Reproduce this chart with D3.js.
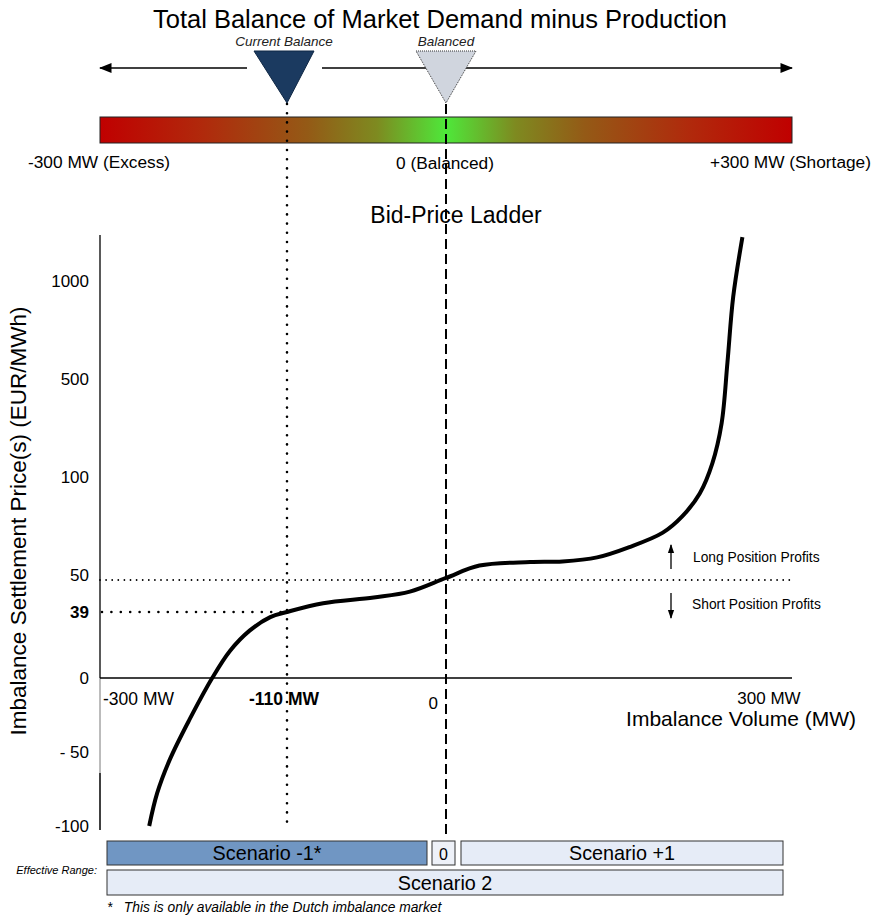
<!DOCTYPE html>
<html><head><meta charset="utf-8">
<script src="https://cdn.jsdelivr.net/npm/d3@7"></script>
<style>
body{margin:0;background:#fff;}
text{font-family:"Liberation Sans",Arial,sans-serif;}
.narrow{font-family:"Liberation Sans Narrow","Arial Narrow","Liberation Sans",sans-serif;}
</style></head>
<body>
<svg id="c" width="873" height="919"></svg>
<script>
// ---- data ----
const curveMW    = [-250,-242,-229,-209,-186,-168,-148,-127,-110,-85,-50,-25,0,29,73,101,131,159,188,205,220,231,239,244,249,257];
const curvePrice = [-100,-78,-55,-28,0,16,28,36,39,42,44,46,51,57,58.7,59,61,66,73,81,92,157,320,582,918,1224];
const yTickValues = [1000,500,100,50,39,0,-50,-100];
const yTickLabels = ["1000","500","100","50","39","0","- 50","-100"];
const xTickValues = [-300,-110,0,300];
const xTickLabels = ["-300 MW","-110 MW","0","300 MW"];
const currentBalanceMW = -110;
const balancedMW = 0;
const balancedPrice = 50;
const currentPrice = 39;
const scenarioRow1 = ["Scenario -1*","0","Scenario +1"];
const scenarioRow2 = ["Scenario 2"];

// ---- scales ----
const svg = d3.select("#c");
const x = d3.scaleLinear().domain([-300,-110,0,300]).range([100,287,446,792]);
const y = d3.scaleLinear().domain([-100,-50,0,39,50,100,500,1000]).range([826,752,678,612,580,477,379,281]);

// ---- top title ----
svg.append("text").attr("x",440).attr("y",28).attr("text-anchor","middle")
  .style("font-size","25.5px").text("Total Balance of Market Demand minus Production");

// arrows
const defs = svg.append("defs");
defs.append("marker").attr("id","ah").attr("viewBox","0 0 10 10").attr("refX",9).attr("refY",5)
  .attr("markerWidth",8).attr("markerHeight",8).attr("orient","auto-start-reverse")
  .append("path").attr("d","M0,1 L10,5 L0,9 Z").attr("fill","#000");
defs.append("marker").attr("id","ahs").attr("viewBox","0 0 10 10").attr("refX",9).attr("refY",5)
  .attr("markerWidth",7).attr("markerHeight",7).attr("orient","auto-start-reverse")
  .append("path").attr("d","M0,1.5 L10,5 L0,8.5 Z").attr("fill","#000");

svg.append("line").attr("x1",247).attr("x2",x(-300)).attr("y1",68).attr("y2",68)
  .attr("stroke","#000").attr("stroke-width",1.6).attr("marker-end","url(#ah)");
svg.append("line").attr("x1",322).attr("x2",x(300)).attr("y1",68).attr("y2",68)
  .attr("stroke","#000").attr("stroke-width",1.6).attr("marker-end","url(#ah)");

// gradient bar
const grad = defs.append("linearGradient").attr("id","g").attr("x1","0%").attr("x2","100%");
[[0,"#c00000"],[0.15,"#b02a0c"],[0.3,"#945a16"],[0.4,"#7e8a20"],[0.5,"#4ee83a"],[0.6,"#7e8a20"],[0.7,"#945a16"],[0.85,"#b02a0c"],[1,"#c00000"]]
 .forEach(s=>grad.append("stop").attr("offset",s[0]).attr("stop-color",s[1]));
svg.append("rect").attr("x",x(-300)).attr("y",117).attr("width",x(300)-x(-300)).attr("height",26)
  .attr("fill","url(#g)").attr("stroke","#222").attr("stroke-width",1);

svg.append("text").attr("x",28).attr("y",168).style("font-size","17.3px").text("-300 MW (Excess)");
svg.append("text").attr("x",x(0)-1).attr("y",169).attr("text-anchor","middle").style("font-size","17.3px").text("0 (Balanced)");
svg.append("text").attr("x",871).attr("y",168).attr("text-anchor","end").style("font-size","17.3px").text("+300 MW (Shortage)");

// vertical guide lines
const xc = x(currentBalanceMW), xb = x(balancedMW);
svg.append("line").attr("x1",xc).attr("x2",xc).attr("y1",104).attr("y2",y(-100)+2)
  .attr("stroke","#000").attr("stroke-width",2.6).attr("stroke-linecap","round").attr("stroke-dasharray","0 9.2");
svg.append("line").attr("x1",xb).attr("x2",xb).attr("y1",104).attr("y2",836)
  .attr("stroke","#000").attr("stroke-width",2).attr("stroke-dasharray","10 5");

// triangles
svg.append("path").attr("d",`M${xc-33},51 L${xc+27},51 L${xc},103 Z`)
  .attr("fill","#1b3a60").attr("stroke","#0f2744").attr("stroke-width",1);
svg.append("path").attr("d",`M${xb-30},51 L${xb+30},51 L${xb},103 Z`)
  .attr("fill","#d0d5de").attr("stroke","#333").attr("stroke-width",1).attr("stroke-dasharray","1 1");
svg.append("text").attr("x",xc-3).attr("y",46).attr("text-anchor","middle")
  .style("font-size","13.5px").style("font-style","italic").attr("fill","#222").text("Current Balance");
svg.append("text").attr("x",xb).attr("y",46).attr("text-anchor","middle")
  .style("font-size","13.5px").style("font-style","italic").attr("fill","#222").text("Balanced");

// ---- lower chart ----
svg.append("text").attr("x",456).attr("y",223).attr("text-anchor","middle").style("font-size","23px").text("Bid-Price Ladder");

// y axis line
svg.append("line").attr("x1",100).attr("x2",100).attr("y1",235).attr("y2",y(0)).attr("stroke","#000").attr("stroke-width",1.3);
svg.append("line").attr("x1",100).attr("x2",100).attr("y1",y(0)).attr("y2",773).attr("stroke","#555").attr("stroke-width",0.8);
svg.append("line").attr("x1",100).attr("x2",100).attr("y1",773).attr("y2",830).attr("stroke","#000").attr("stroke-width",1.5);

// y tick labels
svg.append("g").selectAll("text").data(yTickValues).join("text")
  .attr("x",89).attr("y",d=>y(d)+ (d===50?1:6)).attr("text-anchor","end")
  .style("font-size","17px").style("font-weight",d=>d===currentPrice?"bold":"normal")
  .text((d,i)=>yTickLabels[i]);

// x axis
svg.append("line").attr("x1",x(-300)).attr("x2",x(300)).attr("y1",y(0)).attr("y2",y(0)).attr("stroke","#000").attr("stroke-width",1.3);
svg.append("text").attr("x",x(-300)+3).attr("y",705).style("font-size","17.5px").text(xTickLabels[0]);
svg.append("text").attr("x",x(-110)-3).attr("y",705).attr("text-anchor","middle").style("font-size","17.5px").style("font-weight","bold").text(xTickLabels[1]);
svg.append("text").attr("x",x(0)-8).attr("y",709).attr("text-anchor","end").style("font-size","17px").text(xTickLabels[2]);
svg.append("text").attr("x",x(300)-23).attr("y",704).attr("text-anchor","middle").style("font-size","17px").text(xTickLabels[3]);
svg.append("text").attr("x",856).attr("y",726).attr("text-anchor","end").style("font-size","21px").text("Imbalance Volume (MW)");

// y title
svg.append("text").attr("transform","translate(26,521) rotate(-90)").attr("text-anchor","middle")
  .style("font-size","22.5px").text("Imbalance Settlement Price(s) (EUR/MWh)");

// horizontal dotted lines
svg.append("line").attr("x1",x(-300)).attr("x2",x(300)).attr("y1",y(balancedPrice)).attr("y2",y(balancedPrice))
  .attr("stroke","#000").attr("stroke-width",1.8).attr("stroke-linecap","round").attr("stroke-dasharray","0 6.1");
svg.append("line").attr("x1",x(-300)+2).attr("x2",xc).attr("y1",y(currentPrice)).attr("y2",y(currentPrice))
  .attr("stroke","#000").attr("stroke-width",2.6).attr("stroke-linecap","round").attr("stroke-dasharray","0 9.4");

// curve
const pts = curveMW.map((m,i)=>[m,curvePrice[i]]);
svg.append("path").datum(pts)
  .attr("d",d3.line().x(d=>x(d[0])).y(d=>y(d[1])).curve(d3.curveCatmullRom.alpha(0.5)))
  .attr("fill","none").attr("stroke","#000").attr("stroke-width",4).attr("stroke-linecap","butt");

// profits annotations
svg.append("line").attr("x1",671).attr("x2",671).attr("y1",569).attr("y2",545)
  .attr("stroke","#000").attr("stroke-width",1.3).attr("marker-end","url(#ahs)");
svg.append("line").attr("x1",671).attr("x2",671).attr("y1",593).attr("y2",618)
  .attr("stroke","#000").attr("stroke-width",1.3).attr("marker-end","url(#ahs)");
svg.append("text").attr("x",693).attr("y",562).style("font-size","13.8px").text("Long Position Profits");
svg.append("text").attr("x",692).attr("y",609).style("font-size","13.8px").text("Short Position Profits");

// scenario boxes
const row1 = [
  {x0:107,x1:427,fill:"#7096c3"},
  {x0:432,x1:455,fill:"#eef1f8"},
  {x0:461,x1:783,fill:"#e6ecf7"}
];
const g1 = svg.append("g");
row1.forEach((b,i)=>{
  g1.append("rect").attr("x",b.x0).attr("y",841).attr("width",b.x1-b.x0).attr("height",24)
    .attr("fill",b.fill).attr("stroke","#333").attr("stroke-width",1);
  g1.append("text").attr("class","narrow").attr("x",(b.x0+b.x1)/2).attr("y",860).attr("text-anchor","middle")
    .style("font-size",i===1?"16px":"19.8px").text(scenarioRow1[i]);
});
svg.append("rect").attr("x",107).attr("y",870).attr("width",676).attr("height",25)
  .attr("fill","#e6ecf7").attr("stroke","#333").attr("stroke-width",1);
svg.append("text").attr("class","narrow").attr("x",445).attr("y",890).attr("text-anchor","middle")
  .style("font-size","19.8px").text(scenarioRow2[0]);
svg.append("text").attr("class","narrow").attr("x",97).attr("y",874).attr("text-anchor","end")
  .style("font-size","11px").style("font-style","italic").text("Effective Range:");
svg.append("text").attr("class","narrow").attr("x",107).attr("y",912)
  .style("font-size","13.8px").style("font-style","italic").attr("xml:space","preserve").text("*   This is only available in the Dutch imbalance market");
</script>
</body></html>
